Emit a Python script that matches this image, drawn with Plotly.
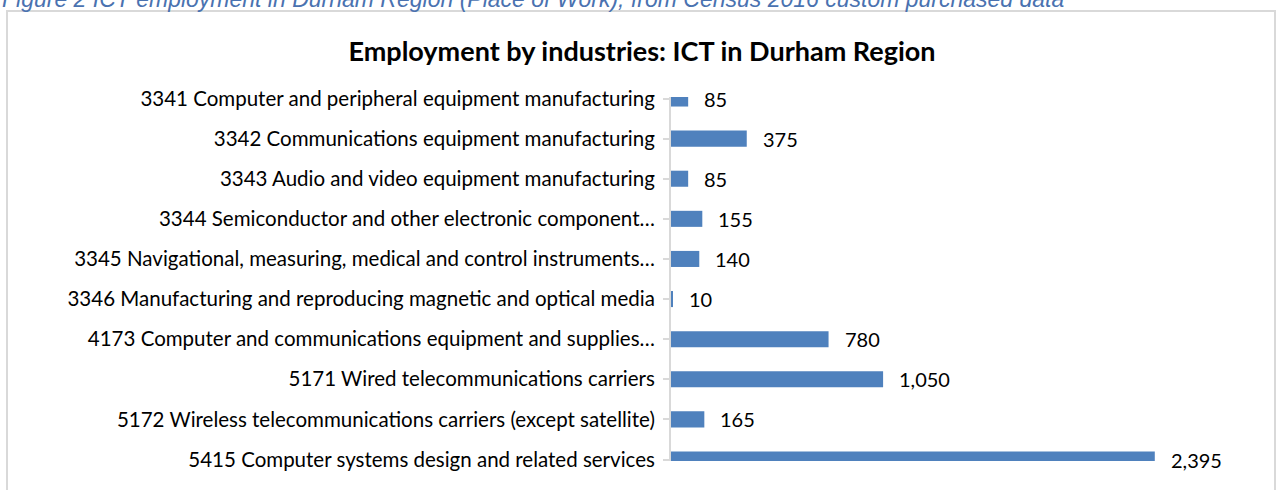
import plotly.graph_objects as go

# Employment counts by ICT industry (NAICS), Durham Region
industries = [
    "3341 Computer and peripheral equipment manufacturing",
    "3342 Communications equipment manufacturing",
    "3343 Audio and video equipment manufacturing",
    "3344 Semiconductor and other electronic component…",
    "3345 Navigational, measuring, medical and control instruments…",
    "3346 Manufacturing and reproducing magnetic and optical media",
    "4173 Computer and communications equipment and supplies…",
    "5171 Wired telecommunications carriers",
    "5172 Wireless telecommunications carriers (except satellite)",
    "5415 Computer systems design and related services",
]
employment = [85, 375, 85, 155, 140, 10, 780, 1050, 165, 2395]

chart_title = "Employment by industries: ICT in Durham Region"
caption = ("Figure 2 ICT employment in Durham Region (Place of Work), "
           "from Census 2016 custom purchased data")

W, H = 1277, 490
PL, PR, PT, PB = 671, 1250, 97, 461  # plot area edges in pixels


def px_x(p):
    return (p - PL) / (PR - PL)


def px_y(p):
    return (PB - p) / (PB - PT)


LABEL_FONT = "Lato"
BAR_COLOR = "#4F81BD"
AXIS_GREY = "#D9D9D9"
EDGE = 0.0375  # end categories sit just inside the plot area, end bars get clipped

fig = go.Figure(
    go.Bar(
        x=employment,
        y=industries,
        orientation="h",
        width=0.4,
        marker=dict(color=BAR_COLOR, line=dict(width=0)),
        hoverinfo="x+y",
    )
)

# value labels to the right of each bar
for name, val in zip(industries, employment):
    fig.add_annotation(
        x=val, y=name, xref="x", yref="y",
        text=f"{val:,}", showarrow=False,
        xanchor="left", yanchor="middle", xshift=14,
        font=dict(family=LABEL_FONT, size=20, color="#000000"),
    )

# caption above the chart box
fig.add_annotation(
    x=px_x(0), y=px_y(14), xref="paper", yref="paper",
    text=f"<i>{caption}</i>", showarrow=False,
    xanchor="left", yanchor="bottom",
    font=dict(family="Liberation Sans", size=23, color="#4A72B0"),
)

# chart box outline
fig.add_shape(
    type="rect", xref="paper", yref="paper",
    x0=px_x(7), x1=px_x(1275), y0=px_y(520), y1=px_y(11),
    line=dict(color=AXIS_GREY, width=2), fillcolor="rgba(0,0,0,0)",
    layer="below",
)

fig.update_layout(
    width=W, height=H,
    margin=dict(l=PL, r=W - PR, t=PT, b=H - PB, pad=0),
    paper_bgcolor="white", plot_bgcolor="white",
    showlegend=False,
    title=dict(
        text=f"<b>{chart_title}</b>",
        x=642 / W, xanchor="center",
        y=1 - 52 / H, yanchor="middle", yref="container",
        font=dict(family=LABEL_FONT, size=27, color="#000000"),
    ),
    xaxis=dict(visible=False, range=[0, (PR - PL) / 0.202], fixedrange=True),
    yaxis=dict(
        type="category",
        range=[len(industries) - 1 + EDGE, -EDGE],
        showline=True, linecolor=AXIS_GREY, linewidth=2,
        ticks="outside", ticklen=6, tickcolor=AXIS_GREY, tickwidth=1.5,
        ticklabelstandoff=4,
        showgrid=False, zeroline=False,
        tickfont=dict(family=LABEL_FONT, size=20.5, color="#000000"),
        fixedrange=True,
    ),
)

fig.write_html("out.html")
